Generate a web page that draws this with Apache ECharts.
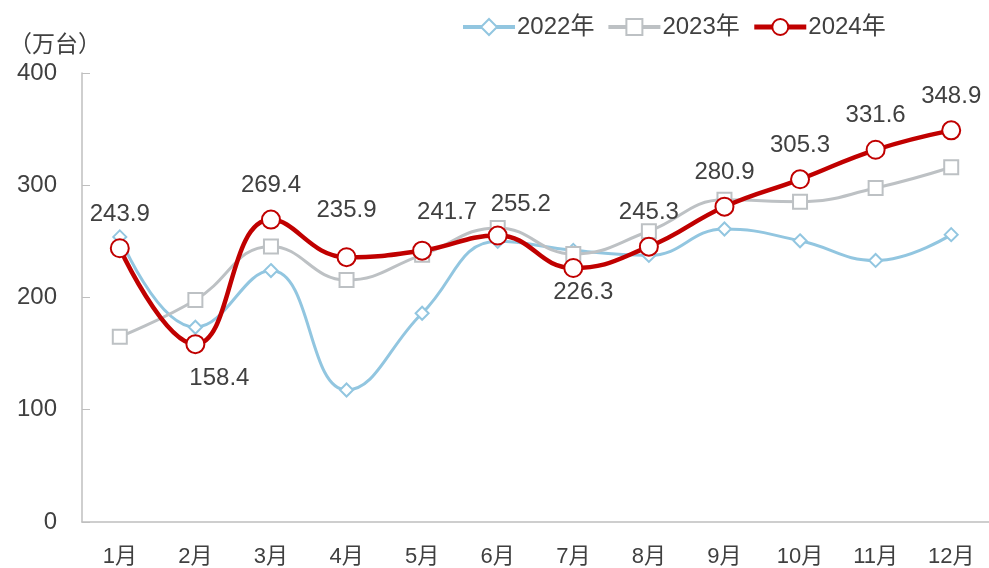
<!DOCTYPE html>
<html>
<head>
<meta charset="utf-8">
<script src="https://cdn.jsdelivr.net/npm/echarts@6/dist/echarts.min.js"></script>
<style>
html,body{margin:0;padding:0;background:#fff;}
#c{width:989px;height:568px;}
</style>
</head>
<body>
<div id="c"></div>
<script>
var months = ['1月','2月','3月','4月','5月','6月','7月','8月','9月','10月','11月','12月'];
var yTicks = [0, 100, 200, 300, 400];
var unitLabel = '（万台）';
var s2022 = [254, 173.5, 224, 117.6, 186, 250, 242, 237.5, 261, 250.5, 233, 256];
var s2023 = [165, 197.8, 245.5, 215.6, 238, 262, 238.8, 259, 287, 285.4, 297.5, 316];
var s2024 = [243.9, 158.4, 269.4, 235.9, 241.7, 255.2, 226.3, 245.3, 280.9, 305.3, 331.6, 348.9];
var names = ['2022年', '2023年', '2024年'];

var FONT = '"Liberation Sans", Arial, "Noto Sans CJK SC", sans-serif';
var TXT = '#404040';
var C22 = '#92C6E0', C23 = '#BDC1C4', C24 = '#C00000';

// label placement tweaks for the 2024 series (index -> style)
var labelTweaks = {
  1: {position: 'bottom', offset: [24, 0]},
  3: {offset: [0, -13]},
  4: {offset: [25, -4]},
  5: {offset: [23, 3]},
  6: {position: 'bottom', offset: [10, -10]}
};

var data2024 = s2024.map(function (v, i) {
  var item = {value: v};
  if (labelTweaks[i]) item.label = labelTweaks[i];
  return item;
});

var chart = echarts.init(document.getElementById('c'), null, {renderer: 'canvas'});
chart.setOption({
  animation: false,
  backgroundColor: '#ffffff',
  textStyle: {fontFamily: FONT},
  title: {
    text: unitLabel,
    left: 4, top: 29,
    textStyle: {fontSize: 23, fontWeight: 'normal', color: TXT, fontFamily: FONT}
  },
  legend: {
    data: [
      {name: names[0], lineStyle: {width: 4, color: C22}, itemStyle: {borderWidth: 2}},
      {name: names[1], lineStyle: {width: 4, color: C23}, itemStyle: {borderWidth: 2}},
      {name: names[2], lineStyle: {width: 5, color: C24}, itemStyle: {borderWidth: 2}}
    ],
    left: 456, top: 10,
    itemWidth: 52, itemHeight: 20, itemGap: 12,
    textStyle: {fontSize: 24, color: TXT, fontFamily: FONT, padding: [0, 0, 0, -3]}
  },
  grid: {left: 82, right: 0, top: 73, bottom: 46, containLabel: false},
  xAxis: {
    type: 'category',
    data: months,
    boundaryGap: true,
    axisLine: {lineStyle: {color: '#BFBFBF', width: 1.5}},
    axisTick: {inside: true, length: 8, lineStyle: {color: '#BFBFBF'}},
    axisLabel: {fontSize: 22, color: TXT, margin: 24, fontFamily: FONT}
  },
  yAxis: {
    type: 'value',
    min: yTicks[0], max: yTicks[yTicks.length - 1], interval: 100,
    axisLine: {show: true, lineStyle: {color: '#BFBFBF', width: 1.5}},
    axisTick: {show: true, inside: true, length: 8, lineStyle: {color: '#BFBFBF'}},
    splitLine: {show: false},
    axisLabel: {fontSize: 24, color: TXT, margin: 25, fontFamily: FONT}
  },
  series: [
    {
      name: names[0], type: 'line', data: s2022, smooth: 0.45,
      symbol: 'diamond', symbolSize: 13,
      lineStyle: {color: C22, width: 3},
      itemStyle: {color: '#ffffff', borderColor: C22, borderWidth: 2},
      z: 2
    },
    {
      name: names[1], type: 'line', data: s2023, smooth: 0.45,
      symbol: 'rect', symbolSize: 14,
      lineStyle: {color: C23, width: 3},
      itemStyle: {color: '#ffffff', borderColor: C23, borderWidth: 2},
      z: 3
    },
    {
      name: names[2], type: 'line', data: data2024, smooth: 0.45,
      symbol: 'circle', symbolSize: 18,
      lineStyle: {color: C24, width: 4.5},
      itemStyle: {color: '#ffffff', borderColor: C24, borderWidth: 2},
      label: {show: true, position: 'top', distance: 12, fontSize: 24, color: TXT, fontFamily: FONT},
      z: 4
    }
  ]
});
</script>
</body>
</html>
